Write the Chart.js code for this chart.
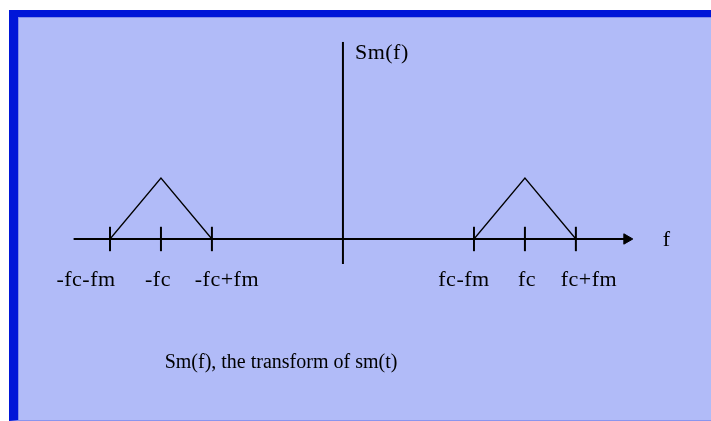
<!DOCTYPE html>
<html lang="en">

<head>
    <meta charset="UTF-8">
    <title>Sm(f), the transform of sm(t)</title>
    <script src="https://cdn.jsdelivr.net/npm/chart.js"></script>
    <style>
        html, body {
            margin: 0;
            padding: 0;
            background: #ffffff;
            overflow: hidden;
        }

        .panel {
            position: absolute;
            left: 9px;
            top: 10px;
            width: 720px;
            height: 403px;
            background-color: #b1bbf8;
            border-top: 7px solid #0016d8;
            border-left: 9px solid #0016d8;
            border-bottom: 1px solid #8a95ee;
            box-shadow: inset 1px 1px 0 #8590ea;
        }

        #spectrum {
            position: absolute;
            left: 0;
            top: 0;
        }
    </style>
</head>

<body>
    <div class="panel"></div>
    <canvas id="spectrum" width="711" height="421"></canvas>

    <script>
        // values in units of fc (x) and of the peak height (y)
        const fc = 1;
        const fm = 0.28;
        const peak = 1;

        const tickValues = [-fc - fm, -fc, -fc + fm, fc - fm, fc, fc + fm];
        const tickLabels = ['-fc-fm', '-fc', '-fc+fm', 'fc-fm', 'fc', 'fc+fm'];

        const leftBand = [
            { x: -fc - fm, y: 0 },
            { x: -fc, y: peak },
            { x: -fc + fm, y: 0 }
        ];
        const rightBand = [
            { x: fc - fm, y: 0 },
            { x: fc, y: peak },
            { x: fc + fm, y: 0 }
        ];

        const fAxis = [{ x: -1.48, y: 0 }, { x: 1.56, y: 0 }];
        const arrowHead = [{ x: 1.56, y: 0 }];
        const smAxis = [{ x: 0, y: -0.41 }, { x: 0, y: 3.23 }];
        const tickHalf = 0.2;

        const lineSet = (data, width) => ({
            data: data,
            showLine: true,
            borderColor: '#000',
            borderWidth: width,
            pointRadius: 0,
            tension: 0
        });

        const datasets = [
            lineSet(fAxis, 2),
            lineSet(smAxis, 2),
            lineSet(leftBand, 1.3),
            lineSet(rightBand, 1.3),
            {
                data: arrowHead,
                pointStyle: 'triangle',
                rotation: 90,
                pointRadius: 6,
                backgroundColor: '#000',
                borderColor: '#000',
                borderWidth: 1
            }
        ];
        tickValues.forEach(v => {
            datasets.push(lineSet([{ x: v, y: -tickHalf }, { x: v, y: tickHalf }], 2));
        });

        // text written on the picture
        const textPlugin = {
            id: 'spectrumText',
            afterDraw(chart) {
                const ctx = chart.ctx;
                const xs = chart.scales.x;
                const ys = chart.scales.y;
                const y0 = ys.getPixelForValue(0);
                // the labels in the picture sit a little off their ticks
                const nudge = [-24, -3, 15, -10, 2, 13];
                ctx.save();
                ctx.fillStyle = '#000';
                ctx.textBaseline = 'alphabetic';
                ctx.letterSpacing = '0.5px';

                ctx.font = '22px "Liberation Serif", "Times New Roman", serif';
                ctx.textAlign = 'center';
                tickValues.forEach((v, i) => {
                    ctx.fillText(tickLabels[i], xs.getPixelForValue(v) + nudge[i], y0 + 47);
                });

                ctx.textAlign = 'left';
                ctx.fillText('Sm(f)', xs.getPixelForValue(0) + 12, ys.getPixelForValue(smAxis[1].y) + 17);
                ctx.fillText('f', xs.getPixelForValue(fAxis[1].x) + 36, y0 + 7);

                ctx.letterSpacing = '0px';
                ctx.font = '20px "Liberation Serif", "Times New Roman", serif';
                ctx.textAlign = 'center';
                ctx.fillText('Sm(f), the transform of sm(t)', 281, 368);
                ctx.restore();
            }
        };

        // Chart.js pads the plot by 7px for the arrow marker, the ranges allow for it
        new Chart(document.getElementById('spectrum'), {
            type: 'scatter',
            data: { datasets: datasets },
            options: {
                responsive: false,
                animation: false,
                layout: { padding: 0 },
                plugins: {
                    legend: { display: false },
                    tooltip: { enabled: false }
                },
                scales: {
                    x: { type: 'linear', display: false, min: -1.846, max: 1.984 },
                    y: { type: 'linear', display: false, min: -2.869, max: 3.803 }
                }
            },
            plugins: [textPlugin]
        });
    </script>
</body>

</html>
